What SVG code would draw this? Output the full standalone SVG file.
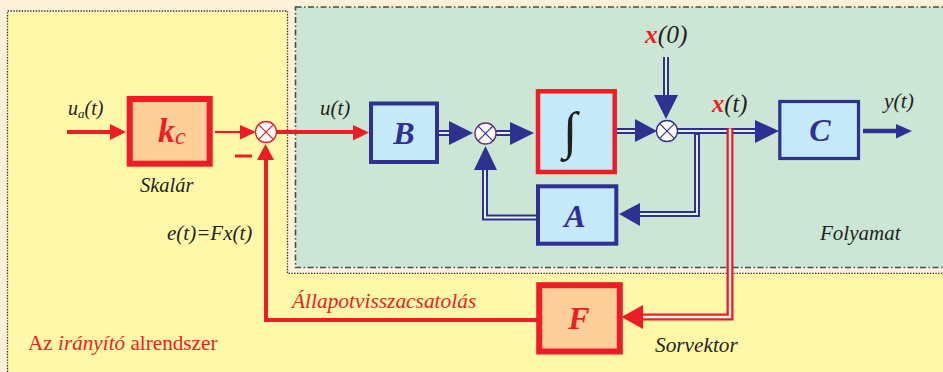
<svg xmlns="http://www.w3.org/2000/svg" width="943" height="372" viewBox="0 0 943 372">
  <style>
    .t { font-family: "Liberation Serif", "Times New Roman", serif; fill: #231F20; }
    .i { font-style: italic; }
    .blk { font-family: "Liberation Serif", "Times New Roman", serif; font-style: italic; font-weight: bold; font-size: 32px; text-anchor: middle; }
    .bbox { fill: #C4E9F8; stroke: #2E3192; stroke-width: 4; }
    .rbox { fill: #FFCF99; stroke: #EE1C25; stroke-width: 6; }
    .dblo { fill: none; stroke: #2E3192; stroke-width: 6; stroke-linejoin: miter; }
    .dbli { fill: none; stroke: #E6F3EE; stroke-width: 2; stroke-linejoin: miter; }
    .rdo { fill: none; stroke: #EE1C25; stroke-width: 7; stroke-linejoin: miter; }
    .rdi { fill: none; stroke: #FFF6F0; stroke-width: 2.4; stroke-linejoin: miter; }
    .bhead { fill: #2E3192; }
    .rhead { fill: #EE1C25; }
    .rline { fill: none; stroke: #EE1C25; stroke-width: 4; }
  </style>

  <!-- background areas -->
  <rect x="0" y="0" width="943" height="372" fill="#FDF1DA"/>
  <path d="M7.5,372 V11 H287.5 V273.3 H943 V372 Z" fill="#FFF8A8"/>
  <path d="M7.5,372 V11 H287.5 V273.3 H943" fill="none" stroke="#333" stroke-width="1.3" stroke-dasharray="1.4 1.4"/>
  <rect x="295.5" y="7" width="660" height="260.5" fill="#CCE6D5" stroke="#4A4A4A" stroke-width="1.6" stroke-dasharray="6 2.5 1.5 2.5"/>

  <!-- connectors -->
  <g id="connectors">
    <!-- u_a(t) input -->
    <line x1="67" y1="132" x2="112" y2="132" class="rline"/>
    <polygon points="110,124 126,132 110,140" class="rhead"/>
    <!-- k_c to summing point -->
    <line x1="215" y1="132" x2="242" y2="132" stroke="#EE1C25" stroke-width="2.2"/>
    <polygon points="240,125 256,132 240,139.5" class="rhead"/>
    <!-- minus sign -->
    <line x1="235" y1="156" x2="252" y2="156" stroke="#EE1C25" stroke-width="3"/>
    <!-- u(t) to B -->
    <line x1="277" y1="132" x2="355" y2="132" class="rline"/>
    <polygon points="353,125 369,132.5 353,140.5" class="rhead"/>
    <!-- feedback from F back to summing point -->
    <path d="M537,320 H266 V158" class="rline" stroke-linejoin="miter"/>
    <polygon points="257,160 265.5,144 274,160" class="rhead"/>

    <!-- B to integrator summing point -->
    <path d="M439,133 H451" class="dblo"/>
    <path d="M439,133 H451" class="dbli"/>
    <polygon points="449,121 473,133 449,145" class="bhead"/>
    <!-- summing point to integrator -->
    <path d="M496,133 H512" class="dblo"/>
    <path d="M496,133 H512" class="dbli"/>
    <polygon points="510,122 534,133 510,145" class="bhead"/>
    <!-- A back to summing point -->
    <path d="M537,217.5 H485 V168" class="dblo"/>
    <path d="M537,217.5 H485 V168" class="dbli"/>
    <polygon points="474,170 485.5,146 497,170" class="bhead"/>

    <!-- integrator to state summing point -->
    <path d="M617,131 H637" class="dblo"/>
    <path d="M617,131 H637" class="dbli"/>
    <polygon points="635,119 657,131 635,142" class="bhead"/>
    <!-- x(0) initial state -->
    <path d="M666,57 V97" class="dblo"/>
    <path d="M666,57 V97" class="dbli"/>
    <polygon points="654,95 666,119 678,95" class="bhead"/>
    <!-- x(t) to C -->
    <path d="M677,131 H757" class="dblo"/>
    <path d="M677,131 H757" class="dbli"/>
    <polygon points="755,120 779,131 755,143" class="bhead"/>
    <!-- x(t) branch to A -->
    <path d="M697,134 V214 H638" class="dblo"/>
    <path d="M697,135 V214 H638" class="dbli"/>
    <polygon points="640,203 619,214 640,226" class="bhead"/>
    <!-- x(t) branch to F -->
    <path d="M730,128.5 V317 H641" class="rdo"/>
    <path d="M730,128.5 V317 H641" class="rdi"/>
    <polygon points="643,305 621.5,317 643,329" class="rhead"/>
    <!-- y(t) output -->
    <line x1="863" y1="131" x2="898" y2="131" stroke="#2E3192" stroke-width="4.5"/>
    <polygon points="896,124 912,131 896,138.5" class="bhead"/>
  </g>

  <!-- summing points -->
  <g id="sum1">
    <circle cx="266" cy="132" r="10.5" fill="#fff" stroke="#EE1C25" stroke-width="1.3"/>
    <path d="M258.6,124.6 L273.4,139.4 M273.4,124.6 L258.6,139.4" stroke="#EE1C25" stroke-width="1.2"/>
  </g>
  <g id="sum2">
    <circle cx="485.5" cy="133.5" r="10.5" fill="#fff" stroke="#6B2C6E" stroke-width="1.3"/>
    <path d="M478.1,126.1 L492.9,140.9 M492.9,126.1 L478.1,140.9" stroke="#2E3192" stroke-width="1.2"/>
  </g>
  <g id="sum3">
    <circle cx="667" cy="131" r="10.5" fill="#fff" stroke="#2E3192" stroke-width="1.3"/>
    <path d="M659.6,123.6 L674.4,138.4 M674.4,123.6 L659.6,138.4" stroke="#2E3192" stroke-width="1.2"/>
  </g>

  <!-- blocks -->
  <g id="kc">
    <rect x="129.7" y="99" width="80" height="64.7" class="rbox"/>
    <text x="158" y="142" class="t" font-family="Liberation Serif, serif" font-style="italic" font-weight="bold" font-size="34" style="fill:#EE1C25">k<tspan font-size="24" font-weight="normal" dy="2">c</tspan></text>
  </g>
  <g id="B">
    <rect x="371" y="103.5" width="66" height="58.5" class="bbox"/>
    <text x="404" y="144" class="blk" fill="#2E3192">B</text>
  </g>
  <g id="integrator">
    <rect x="538" y="91.3" width="76.7" height="80.7" fill="#C4E9F8" stroke="#EE1C25" stroke-width="4.5"/>
    <text x="570" y="148" class="t" font-size="52" text-anchor="middle">∫</text>
  </g>
  <g id="A">
    <rect x="538" y="186.3" width="78.3" height="57.4" class="bbox"/>
    <text x="575" y="227" class="blk" fill="#2E3192">A</text>
  </g>
  <g id="C">
    <rect x="779.8" y="101.5" width="78.7" height="57" fill="#C4E9F8" stroke="#2E3192" stroke-width="3.2"/>
    <text x="820" y="141" class="blk" fill="#2E3192">C</text>
  </g>
  <g id="F">
    <rect x="539.2" y="285.2" width="80.6" height="66.3" class="rbox" stroke-width="5"/>
    <text x="579" y="328.5" class="blk" fill="#EE1C25">F</text>
  </g>

  <!-- labels -->
  <g id="labels" font-family="Liberation Serif, Times New Roman, serif">
    <text x="68" y="115" class="t i" font-size="20">u<tspan font-size="13" dy="3">a</tspan><tspan dy="-3">(t)</tspan></text>
    <text x="320" y="115" class="t i" font-size="21">u(t)</text>
    <text x="140" y="191.5" class="t i" font-size="20.5">Skalár</text>
    <text x="167" y="240" class="t i" font-size="21">e(t)=Fx(t)</text>
    <text x="645" y="42.5" class="t i" font-size="25.5"><tspan font-weight="bold" style="fill:#EE1C25">x</tspan>(0)</text>
    <text x="712" y="111.5" class="t i" font-size="24.5"><tspan font-weight="bold" style="fill:#EE1C25">x</tspan>(t)</text>
    <text x="884" y="108" class="t i" font-size="21.5">y(t)</text>
    <text x="820" y="239.5" class="t i" font-size="21">Folyamat</text>
    <text x="292" y="307.5" class="t i" font-size="21.4" style="fill:#EE1C25">Állapotvisszacsatolás</text>
    <text x="655" y="352" class="t i" font-size="21.3">Sorvektor</text>
    <text x="28" y="350" class="t" font-size="21.2" style="fill:#EE1C25">Az <tspan font-style="italic">irányító</tspan> alrendszer</text>
  </g>
</svg>
